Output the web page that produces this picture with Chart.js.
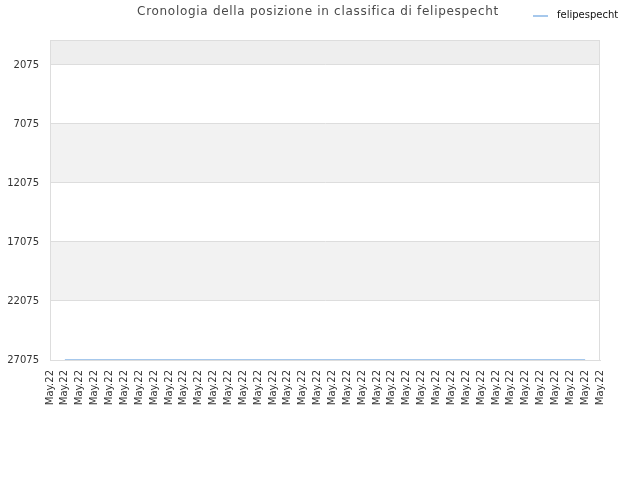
<!DOCTYPE html>
<html>
<head>
<meta charset="utf-8">
<script src="https://cdn.jsdelivr.net/npm/chart.js@4/dist/chart.umd.min.js"></script>
<style>
html,body{margin:0;padding:0;background:#fff;}
#wrap{width:640px;height:480px;}
</style>
</head>
<body>
<div id="wrap"><canvas id="c" width="640" height="480"></canvas></div>
<script>
const chartTitle = "Cronologia della posizione in classifica di felipespecht";
const seriesName = "felipespecht";
const categories = ["May.22","May.22","May.22","May.22","May.22","May.22","May.22","May.22","May.22","May.22",
  "May.22","May.22","May.22","May.22","May.22","May.22","May.22","May.22","May.22","May.22",
  "May.22","May.22","May.22","May.22","May.22","May.22","May.22","May.22","May.22","May.22",
  "May.22","May.22","May.22","May.22","May.22","May.22","May.22","May.22"];
const rankValues = [null,27060,27060,27060,27060,27060,27060,27060,27060,27060,
  27060,27060,27060,27060,27060,27060,27060,27060,27060,27060,
  27060,27060,27060,27060,27060,27060,27060,27060,27060,27060,
  27060,27060,27060,27060,27060,27060,27060,null];
const yTickValues = [2075,7075,12075,17075,22075,27075];
const yMin = -40;
const yMax = 27075;

const FONT = "'DejaVu Sans', sans-serif";

const bandsPlugin = {
  id: 'bands',
  beforeDraw(chart) {
    const {ctx, chartArea: a, scales: {y}} = chart;
    ctx.save();
    const pix = yTickValues.map(v => y.getPixelForValue(v));
    ctx.fillStyle = '#eeeeee';
    ctx.fillRect(a.left, a.top, a.right - a.left, pix[0] - a.top);
    for (let i = 0; i < pix.length - 1; i++) {
      ctx.fillStyle = (i % 2 === 0) ? '#ffffff' : '#f2f2f2';
      ctx.fillRect(a.left, pix[i], a.right - a.left, pix[i + 1] - pix[i]);
    }
    ctx.restore();
  },
  afterDraw(chart) {
    const {ctx, chartArea: a} = chart;
    ctx.save();
    ctx.strokeStyle = '#dddddd';
    ctx.lineWidth = 1;
    ctx.strokeRect(Math.round(a.left) + 0.5, Math.round(a.top) + 0.5, Math.round(a.right - a.left) - 1, Math.round(a.bottom - a.top));
    // title
    ctx.fillStyle = '#4a4a4a';
    ctx.font = "12px " + FONT;
    if ('letterSpacing' in ctx) ctx.letterSpacing = '0.7px';
    ctx.textAlign = 'center';
    ctx.textBaseline = 'middle';
    ctx.fillText(chartTitle, 318, 12);
    if ('letterSpacing' in ctx) ctx.letterSpacing = '0px';
    // legend
    const ds = chart.data.datasets[0];
    ctx.strokeStyle = ds.borderColor;
    ctx.lineWidth = 2;
    ctx.beginPath();
    ctx.moveTo(533, 16);
    ctx.lineTo(548, 16);
    ctx.stroke();
    ctx.fillStyle = '#111111';
    ctx.font = "10px " + FONT;
    ctx.textAlign = 'left';
    ctx.fillText(ds.label, 557, 15);
    ctx.restore();
  }
};

new Chart(document.getElementById('c'), {
  type: 'line',
  data: {
    labels: categories,
    datasets: [{
      label: seriesName,
      data: rankValues,
      borderColor: '#a6c8ec',
      borderWidth: 1.5,
      pointRadius: 0,
      fill: false,
      tension: 0,
      spanGaps: false
    }]
  },
  options: {
    responsive: false,
    animation: false,
    layout: { padding: { top: 40, right: 40, left: 0, bottom: 0 } },
    plugins: {
      legend: { display: false },
      title: { display: false },
      tooltip: { enabled: false }
    },
    scales: {
      x: {
        grid: { display: false, drawTicks: false },
        border: { display: true, color: '#dddddd' },
        ticks: {
          autoSkip: false,
          minRotation: 90,
          maxRotation: 90,
          padding: 10,
          color: '#333333',
          font: { family: FONT, size: 10 }
        },
        afterFit(s) { s.height = 120; }
      },
      y: {
        reverse: true,
        min: yMin,
        max: yMax,
        afterBuildTicks(s) { s.ticks = yTickValues.map(v => ({value: v})); },
        grid: { color: '#dddddd', drawTicks: false },
        border: { display: true, color: '#dddddd' },
        ticks: {
          padding: 11,
          color: '#333333',
          font: { family: FONT, size: 10 },
          callback: v => String(v)
        },
        afterFit(s) { s.width = 50; }
      }
    }
  },
  plugins: [bandsPlugin]
});
</script>
</body>
</html>
